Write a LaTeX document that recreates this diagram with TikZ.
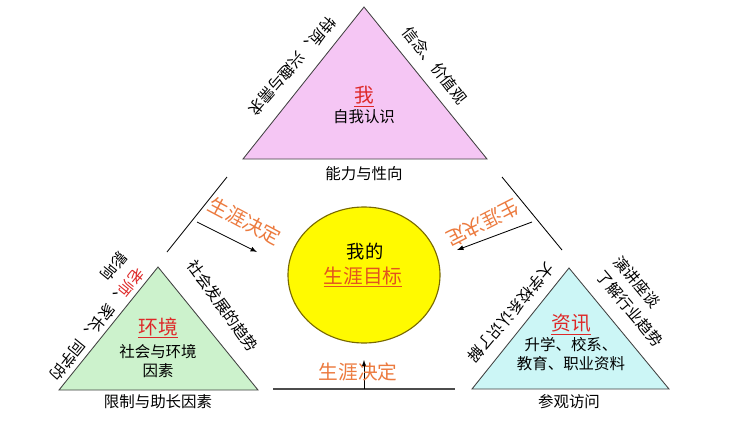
\documentclass[tikz,border=0pt]{standalone}
\usepackage{fontspec}
\setmainfont{Noto Sans CJK SC}
\usepackage{tikz}
\usetikzlibrary{calc}
\definecolor{mepink}{RGB}{245,198,244}
\definecolor{envgreen}{RGB}{204,242,204}
\definecolor{infocyan}{RGB}{204,246,246}
\definecolor{goalyellow}{RGB}{255,250,0}
\definecolor{goalrim}{RGB}{120,105,0}
\definecolor{headred}{RGB}{222,40,40}
\definecolor{goalred}{RGB}{226,84,30}
\definecolor{decideorange}{RGB}{236,122,62}

\begin{document}
\begin{tikzpicture}[x=0.025cm, y=-0.025cm,
    tri/.style={draw=black!75, line width=0.6pt},
    lab/.style={font=\fontsize{11}{13}\selectfont, inner sep=0pt},
    side/.style={font=\fontsize{11}{13}\selectfont, inner sep=0pt},
    head/.style={font=\fontsize{14}{16}\selectfont, inner sep=0pt},
    decide/.style={text=decideorange, font=\fontsize{14}{16}\selectfont, inner sep=0pt}]
    \fill[white] (0,0) rectangle (732,422);
    \useasboundingbox (0,0) rectangle (732,422);
%triangles
    \draw[tri, fill=mepink] (364,7) -- (243,159) -- (487,159) -- cycle;
    \draw[tri, fill=envgreen] (158,267) -- (59,390) -- (258,390) -- cycle;
    \draw[tri, fill=infocyan] (569,268) -- (472,389) -- (669,389) -- cycle;
    \draw[line width=0.8pt, draw=goalrim, fill=goalyellow] (364,275) ellipse [x radius=76, y radius=68];
%outer lines
    \coordinate (leftlo) at (167,252); \coordinate (lefthi) at (227,177);
    \coordinate (righthi) at (502,177); \coordinate (rightlo) at (562,250);
    \coordinate (botleft) at (273,389); \coordinate (botright) at (455,389);
    \draw[line width=0.6pt] (leftlo) -- (lefthi);
    \draw[line width=0.6pt] (righthi) -- (rightlo);
    \draw[line width=0.9pt, black!70] (botleft) -- (botright);
%arrows
    \coordinate (leftfrom) at (197,222); \coordinate (leftto) at (257,252);
    \coordinate (rightfrom) at (532,222); \coordinate (rightto) at (457,250);
    \coordinate (botfrom) at (364,389); \coordinate (botto) at (364,360);
    \draw[-latex, line width=0.6pt] (leftfrom) -- (leftto);
    \draw[-latex, line width=0.6pt] (rightfrom) -- (rightto);
    \draw[-latex, line width=0.6pt] (botfrom) -- (botto);
%goal
    \node[font=\fontsize{13}{15}\selectfont, inner sep=0pt] (goalmine) at (365,252) {我的};
    \node[head, text=goalred] (goal) at (363,277) {\underline{生涯目标}};
%me
    \node[head, text=headred] (me) at (364,97) {\underline{我}};
    \node[lab] (meself) at (364,117) {自我认识};
    \node[lab] (meability) at (364,174) {能力与性向};
    \node[side, rotate=229] (metrait) at (292,66) {特质、兴趣与需求};
    \node[side, rotate=-52] (mevalue) at (435,65) {信念、价值观};
%environment
    \node[head, text=headred] (env) at (158,328) {\underline{环境}};
    \node[lab, align=center] (envsoc) at (158,361) {社会与环境\\因素};
    \node[lab] (envlimit) at (158,402) {限制与助长因素};
    \node[side, rotate=231, anchor=west] (envpeople) at (141,270) {\textcolor{headred}{老师}、家长、同学的};
    \node[side, rotate=231, anchor=west] (envinfl) at (124,254) {影响};
    \node[side, rotate=-54] (envtrend) at (223,306) {社会发展的趋势};
%information
    \node[head, text=headred] (info) at (571,325) {\underline{资讯}};
    \node[lab, align=center] (infodata) at (571,354) {升学、校系、\\教育、职业资料};
    \node[lab] (infovisit) at (569,402) {参观访问};
    \node[side, rotate=230] (infocollege) at (511,313) {大学校系认识了解};
    \node[side, rotate=-50, anchor=west] (infotalk) at (617,258) {演讲座谈};
    \node[side, rotate=-50, anchor=west] (infotrend) at (600,273) {了解行业趋势};
%decisions
    \node[decide, rotate=-28] (decleft) at (245,221) {生涯决定};
    \node[decide, rotate=207] (decright) at (483,223) {生涯决定};
    \node[decide] (decbot) at (358,372) {生涯决定};
\end{tikzpicture}
\end{document}
